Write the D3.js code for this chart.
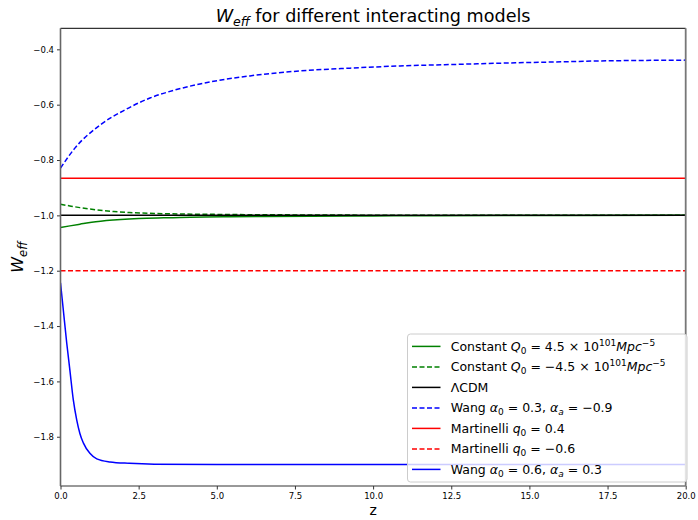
<!DOCTYPE html>
<html>
<head>
<meta charset="utf-8">
<script src="https://cdn.jsdelivr.net/npm/d3@7"></script>
<style>
  html, body { margin: 0; padding: 0; background: #fff; }
  svg { display: block; font-family: "DejaVu Sans", sans-serif; }
</style>
</head>
<body>
<svg id="chart" width="698" height="520"></svg>
<script>
// Effective equation of state w_eff(z) for several interacting dark-energy models
const zRange = [0, 20];
const wRange = [-1.978, -0.324];
const xTicks = [0, 2.5, 5, 7.5, 10, 12.5, 15, 17.5, 20];
const yTicks = [-0.4, -0.6, -0.8, -1.0, -1.2, -1.4, -1.6, -1.8];

// Constant coupling, positive Q0
const constPosZ = [0, 0.3, 0.62, 1.0, 1.69, 2.2, 2.76, 3.3, 3.82, 4.6, 5.4, 6.5, 8, 10, 12, 15, 20];
const constPosW = [-1.044, -1.038, -1.032, -1.025, -1.017, -1.013, -1.010, -1.009, -1.008, -1.006, -1.005, -1.004, -1.003, -1.002, -1.001, -1.0005, -1.0];

// Constant coupling, negative Q0
const constNegZ = [0, 0.3, 0.62, 1.16, 1.7, 2.2, 3.0, 3.8, 4.6, 5.4, 7, 9, 12, 15, 20];
const constNegW = [-0.960, -0.966, -0.972, -0.980, -0.986, -0.990, -0.993, -0.995, -0.996, -0.997, -0.998, -0.999, -0.9995, -0.9998, -1.0];

// LambdaCDM
const lcdmZ = [0, 20];
const lcdmW = [-1.0, -1.0];

// Wang alpha0 = 0.3, alpha_a = -0.9
const wangAZ = [0, 0.46, 1.26, 2.06, 2.86, 3.66, 4.46, 6.06, 7.66, 9.26, 10.86, 12.46, 14.06, 15.66, 17.26, 20];
const wangAW = [-0.829, -0.757, -0.674, -0.619, -0.576, -0.547, -0.525, -0.496, -0.478, -0.468, -0.460, -0.455, -0.450, -0.446, -0.442, -0.439];

// Martinelli q0 = 0.4
const martAZ = [0, 20];
const martAW = [-0.866, -0.866];

// Martinelli q0 = -0.6
const martBZ = [0, 20];
const martBW = [-1.2, -1.2];

// Wang alpha0 = 0.6, alpha_a = 0.3
const wangBZ = [0, 0.09, 0.2, 0.3, 0.41, 0.52, 0.62, 0.73, 0.94, 1.16, 1.58, 2.2, 3.0, 5, 10, 20];
const wangBW = [-1.244, -1.342, -1.462, -1.559, -1.667, -1.740, -1.788, -1.822, -1.860, -1.880, -1.891, -1.896, -1.899, -1.9, -1.9, -1.9];

const series = [
  { z: constPosZ, w: constPosW, color: "green", dash: null },
  { z: constNegZ, w: constNegW, color: "green", dash: "5,2.5" },
  { z: lcdmZ, w: lcdmW, color: "black", dash: null },
  { z: wangAZ, w: wangAW, color: "blue", dash: "5,2.5" },
  { z: martAZ, w: martAW, color: "red", dash: null },
  { z: martBZ, w: martBW, color: "red", dash: "5,2.5" },
  { z: wangBZ, w: wangBW, color: "blue", dash: null }
];

const margin = { left: 60.5, right: 698 - 685.7, top: 28.3, bottom: 520 - 486 };
const W = 698, H = 520;
const svg = d3.select("#chart");

const x = d3.scaleLinear().domain(zRange).range([margin.left, W - margin.right]);
const y = d3.scaleLinear().domain(wRange).range([H - margin.bottom, margin.top]);

const fmtMinus = v => d3.format(".1f")(v).replace("-", "\u2212");

// clip so curves stay inside the axes
svg.append("clipPath").attr("id", "plotclip")
  .append("rect")
  .attr("x", margin.left).attr("y", margin.top)
  .attr("width", W - margin.left - margin.right)
  .attr("height", H - margin.top - margin.bottom);

const line = d3.line().curve(d3.curveMonotoneX);
const plot = svg.append("g").attr("clip-path", "url(#plotclip)");

series.forEach(s => {
  const pts = s.z.map((z, i) => [x(z), y(s.w[i])]);
  plot.append("path")
    .attr("d", line(pts))
    .attr("fill", "none")
    .attr("stroke", s.color)
    .attr("stroke-width", 1.5)
    .attr("stroke-dasharray", s.dash);
});

// axes
const xAxis = svg.append("g")
  .attr("transform", `translate(0,${H - margin.bottom})`)
  .call(d3.axisBottom(x).tickValues(xTicks).tickFormat(d3.format(".1f")).tickSize(3.5).tickPadding(3));
const yAxis = svg.append("g")
  .attr("transform", `translate(${margin.left},0)`)
  .call(d3.axisLeft(y).tickValues(yTicks).tickFormat(fmtMinus).tickSize(3.5).tickPadding(3));
[xAxis, yAxis].forEach(a => {
  a.select(".domain").remove();
  a.selectAll("text").attr("font-size", 8.5).attr("font-family", "DejaVu Sans").attr("fill", "#000");
  a.selectAll("line").attr("stroke", "#000").attr("stroke-width", 0.8);
});

// frame
const x0 = margin.left, x1 = W - margin.right, y0 = margin.top, y1 = H - margin.bottom;
svg.append("line").attr("x1", x0).attr("x2", x1).attr("y1", y0).attr("y2", y0).attr("stroke", "#000").attr("stroke-width", 1);
svg.append("line").attr("x1", x0).attr("x2", x1).attr("y1", y1).attr("y2", y1).attr("stroke", "#333").attr("stroke-width", 1);
svg.append("line").attr("x1", x0).attr("x2", x0).attr("y1", y0).attr("y2", y1).attr("stroke", "#666").attr("stroke-width", 1.6);
svg.append("line").attr("x1", x1).attr("x2", x1).attr("y1", y0).attr("y2", y1).attr("stroke", "#777").attr("stroke-width", 1.8);

// title
const title = svg.append("text")
  .attr("x", (x0 + x1) / 2).attr("y", 22)
  .attr("text-anchor", "middle")
  .attr("font-size", 17.6);
title.append("tspan").attr("font-style", "italic").text("W");
title.append("tspan").attr("font-style", "italic").attr("font-size", 12.5).attr("dy", 4).text("eff");
title.append("tspan").attr("dy", -4).text(" for different interacting models");

// axis labels
svg.append("text").attr("x", (x0 + x1) / 2).attr("y", 515)
  .attr("text-anchor", "middle").attr("font-size", 14).text("z");
const yl = svg.append("text")
  .attr("transform", `translate(23,${(y0 + y1) / 2}) rotate(-90)`)
  .attr("text-anchor", "middle").attr("font-size", 16);
yl.append("tspan").attr("font-style", "italic").text("W");
yl.append("tspan").attr("font-style", "italic").attr("font-size", 11.5).attr("dy", 4).text("eff");

// legend
const legendLabels = [
  [["Constant "], ["Q", "i"], ["0", "sub"], [" = 4.5 \u00d7 10"], ["101", "sup"], ["Mpc", "i"], ["\u22125", "sup"]],
  [["Constant "], ["Q", "i"], ["0", "sub"], [" = \u22124.5 \u00d7 10"], ["101", "sup"], ["Mpc", "i"], ["\u22125", "sup"]],
  [["\u039bCDM"]],
  [["Wang "], ["\u03b1", "i"], ["0", "sub"], [" = 0.3, "], ["\u03b1", "i"], ["a", "subi"], [" = \u22120.9"]],
  [["Martinelli "], ["q", "i"], ["0", "sub"], [" = 0.4"]],
  [["Martinelli "], ["q", "i"], ["0", "sub"], [" = \u22120.6"]],
  [["Wang "], ["\u03b1", "i"], ["0", "sub"], [" = 0.6, "], ["\u03b1", "i"], ["a", "subi"], [" = 0.3"]]
];

const lg = svg.append("g");
lg.append("rect")
  .attr("x", 407.5).attr("y", 334).attr("width", 279.5).attr("height", 148)
  .attr("rx", 3).attr("fill", "#fff").attr("fill-opacity", 0.8)
  .attr("stroke", "#ccc").attr("stroke-width", 1);

series.forEach((s, i) => {
  const ly = 346.4 + i * 20.5;
  lg.append("line")
    .attr("x1", 412).attr("x2", 440.5).attr("y1", ly).attr("y2", ly)
    .attr("stroke", s.color).attr("stroke-width", 1.5)
    .attr("stroke-dasharray", s.dash);
  const t = lg.append("text").attr("x", 450.7).attr("y", ly + 4.5).attr("font-size", 12.5);
  let shift = 0;
  legendLabels[i].forEach(([txt, kind]) => {
    const sp = t.append("tspan").text(txt);
    let target = 0;
    if (kind === "i") sp.attr("font-style", "italic");
    if (kind === "sub" || kind === "subi") { sp.attr("font-size", 9); target = 3; }
    if (kind === "subi") sp.attr("font-style", "italic");
    if (kind === "sup") { sp.attr("font-size", 9); target = -5; }
    if (target !== shift) { sp.attr("dy", target - shift); shift = target; }
  });
});
</script>
</body>
</html>
